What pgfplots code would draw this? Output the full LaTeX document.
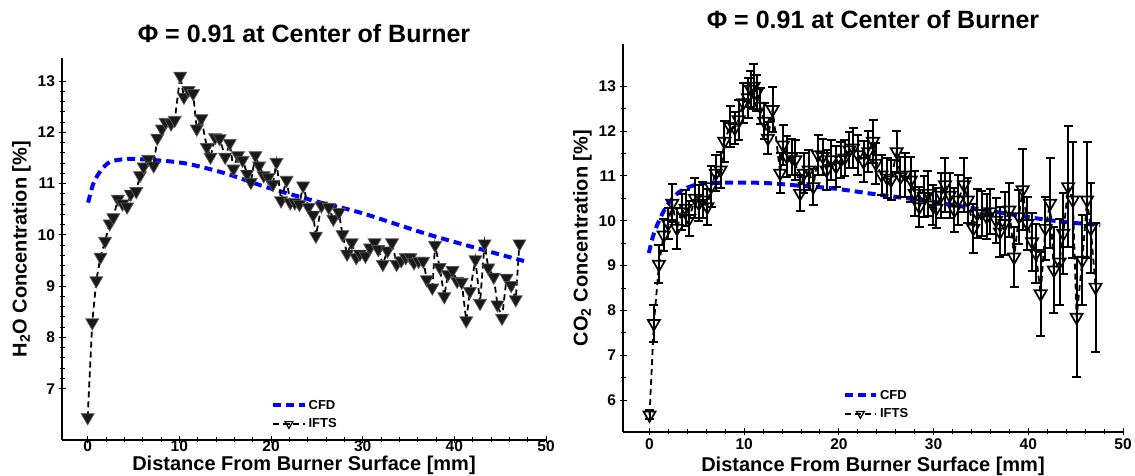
\documentclass[border=0pt]{standalone}
\usepackage{fontspec}
\setmainfont{Liberation Sans}
\usepackage{pgfplots}
\usepackage{pgfplotstable}
\pgfplotsset{compat=1.18}

\pgfplotstableread{
x y
0 6.44
0.5 8.29
0.94 9.11
1.4 9.57
1.9 9.88
2.4 10.22
2.8 10.34
3.3 10.70
3.8 10.61
4.3 10.55
4.7 10.80
5.3 10.85
5.7 11.16
6.1 11.33
6.6 11.48
7.2 11.35
7.6 11.89
8.1 12.07
8.5 12.20
9.1 12.17
9.5 12.24
10.1 13.10
10.5 12.69
11.0 12.82
11.5 12.76
11.9 12.07
12.4 12.27
13.0 11.71
13.4 11.52
13.9 11.90
14.4 11.88
15.0 11.52
15.5 11.79
15.9 11.29
16.4 11.55
16.9 11.46
17.4 11.19
17.8 11.03
18.3 11.55
18.7 11.35
19.2 11.16
19.7 11.12
20.2 10.99
20.6 11.42
21.1 10.67
21.7 11.07
22.1 10.63
22.6 10.63
23.1 10.60
23.5 10.96
24.1 10.54
24.6 10.39
24.9 9.98
25.5 10.57
26.3 10.54
26.8 10.31
27.4 10.44
27.8 10.01
28.3 9.63
28.8 9.85
29.3 9.56
29.7 9.63
30.3 9.59
30.8 9.75
31.3 9.85
31.7 9.72
32.2 9.43
32.7 9.69
33.2 9.85
33.7 9.43
34.2 9.50
34.7 9.56
35.2 9.56
35.6 9.46
36.1 9.49
36.6 9.49
37.0 9.13
37.6 8.97
37.9 9.80
38.4 9.37
38.9 8.80
39.3 9.23
39.8 9.31
40.3 9.10
40.8 9.08
41.3 8.33
41.7 8.90
42.3 9.52
42.8 8.67
43.3 9.83
43.7 9.36
44.3 9.18
44.7 8.64
45.2 8.38
45.7 9.16
46.2 9.02
46.7 8.74
47.1 9.83
}\htwoo

\pgfplotstableread{
x y
0.05 10.63
0.6 10.99
1.3 11.22
2.4 11.42
4.3 11.48
7.2 11.46
10.8 11.39
15.2 11.19
19.5 10.93
25.0 10.65
30.0 10.42
37.7 9.98
47.6 9.49
}\cfdh

\pgfplotstableread{
x y e
0 5.67 0.1
0.46 7.71 0.41
1.0 9.03 0.42
1.5 9.68 0.35
1.96 9.94 0.35
2.4 10.39 0.42
2.9 9.83 0.45
3.4 10.2 0.4
3.8 10.28 0.4
4.2 10.05 0.4
4.8 10.5 0.45
5.2 10.39 0.4
5.6 10.46 0.4
6.1 10.31 0.4
6.5 10.76 0.45
7.0 11.06 0.4
7.5 11.13 0.4
7.9 11.77 0.45
8.5 12.10 0.45
9.0 12.07 0.35
9.4 12.25 0.45
9.9 12.63 0.45
10.4 12.74 0.45
10.7 12.93 0.4
11.0 13.0 0.5
11.3 12.85 0.4
11.7 12.55 0.4
12.1 12.22 0.4
12.5 11.84 0.35
13.0 12.48 0.5
13.8 11.06 0.45
14.1 11.69 0.45
14.5 11.43 0.45
15.0 11.43 0.4
15.4 11.36 0.45
15.9 10.61 0.4
16.3 11.06 0.45
16.8 11.13 0.45
17.3 10.76 0.4
17.8 11.47 0.45
18.3 11.43 0.4
18.7 11.13 0.45
19.2 11.36 0.45
19.7 11.21 0.45
20.2 11.36 0.4
20.6 11.40 0.4
21.1 11.58 0.4
21.5 11.62 0.45
22.0 11.47 0.45
22.6 11.32 0.45
23.1 11.54 0.45
23.6 11.77 0.48
23.9 11.28 0.45
24.5 11.02 0.45
25.1 10.95 0.45
25.5 10.91 0.45
26.1 11.54 0.45
26.5 10.98 0.45
27.0 11.02 0.5
27.6 10.91 0.5
28.0 10.61 0.5
28.5 10.31 0.45
29.0 10.54 0.45
29.4 10.61 0.5
29.9 10.35 0.45
30.3 10.28 0.45
30.8 10.57 0.5
31.2 10.80 0.6
31.7 10.57 0.5
32.2 10.24 0.5
32.6 10.46 0.55
33.2 10.80 0.6
33.6 10.46 0.5
34.2 9.83 0.55
34.6 10.16 0.55
35.1 10.16 0.5
35.6 10.09 0.5
36.0 10.2 0.5
36.6 10.01 0.5
37.0 9.75 0.55
37.5 9.94 0.7
38.0 10.24 0.6
38.5 9.19 0.66
39.0 10.09 0.6
39.4 10.69 0.9
39.9 9.94 0.6
40.4 9.53 0.65
40.8 9.27 0.65
41.3 8.37 0.93
41.8 9.83 0.7
42.3 10.39 1.0
42.7 8.9 0.95
43.3 9.08 0.95
43.7 9.72 0.9
44.2 10.76 1.35
44.7 10.46 1.3
45.1 7.85 1.34
45.7 9.12 1.0
46.2 10.46 1.3
46.6 9.83 1.0
47.1 8.52 1.44
}\cotwo

\pgfplotstableread{
x y
-0.07 9.28
0.35 9.64
0.88 9.94
1.77 10.31
3.2 10.65
5.3 10.82
8.8 10.85
12.3 10.84
15.9 10.78
19.4 10.72
24.2 10.58
30.0 10.42
35.3 10.24
42.3 10.01
47.6 9.90
}\cfdc

\pgfplotsset{
  myaxis/.style={
    scale only axis,
    axis x line*=bottom,
    axis y line*=left,
    axis line style={line width=1.1pt},
    xmin=-2.8, xmax=50,
    xtick={0,10,...,50},
    minor x tick num=4,
    tick align=center,
    major tick length=7pt,
    minor tick length=5pt,
    every tick/.style={line width=1pt, black},
    /pgf/number format/assume math mode=true,
    tick label style={font=\bfseries\fontsize{15.5}{15.5}\selectfont},
    label style={font=\bfseries\fontsize{20}{20}\selectfont},
    title style={font=\bfseries\fontsize{25}{25}\selectfont},
    xlabel={Distance From Burner Surface [mm]},
    legend style={draw=none, fill=none, font=\bfseries\fontsize{13}{13}\selectfont,
      row sep=4pt, inner sep=1pt},
    legend cell align=left,
    legend image code/.code={
      \draw[mark repeat=2,mark phase=2] plot coordinates {(0cm,0cm) (0.55cm,0cm) (1.1cm,0cm)};},
    clip=false,
  },
  cfd/.style={blue, line width=4pt, dash pattern=on 8pt off 5pt, smooth},
  ifts/.style={black, line width=1.8pt, dash pattern=on 6pt off 4pt},
}

\begin{document}
\begin{tikzpicture}
\path[use as bounding box] (0,0) rectangle (1135pt,476pt);

\begin{axis}[myaxis,
  at={(62pt,36pt)}, anchor=south west,
  width=484pt, height=382pt,
  ymin=6.0, ymax=13.45,
  ytick={7,...,13},
  minor y tick num=4,
  title={Φ = 0.91 at Center of Burner},
  title style={at={(0.5,1.0)}, yshift=6pt},
  xticklabel style={yshift=6pt},
  xlabel style={yshift=3pt},
  ylabel={H\textsubscript{2}O Concentration [\%]},
  legend style={at={(0.43,0.02)}, anchor=south west},
]
\addlegendimage{cfd}
\addlegendentry{CFD}
\addlegendimage{ifts, mark=triangle, mark options={rotate=180, solid, line width=1.2pt, mark size=4.5pt}}
\addlegendentry{IFTS}
\addplot[cfd, forget plot] table {\cfdh};
\addplot[ifts, forget plot, mark=triangle*, mark size=7.5pt,
  mark options={rotate=180, solid, fill=black!90, draw=black!65, line width=0.7pt}] table {\htwoo};
\end{axis}

\begin{axis}[myaxis,
  at={(623pt,44pt)}, anchor=south west,
  width=500pt, height=388pt,
  ymin=5.29, ymax=13.94,
  ytick={6,...,13},
  minor y tick num=1,
  title={Φ = 0.91 at Center of Burner},
  title style={at={(0.5,1.0)}, yshift=6pt},
  ylabel={CO\textsubscript{2} Concentration [\%]},
  legend style={at={(0.437,0.025)}, anchor=south west},
]
\addlegendimage{cfd}
\addlegendentry{CFD}
\addlegendimage{ifts, mark=triangle, mark options={rotate=180, solid, line width=1.2pt, mark size=4.5pt}}
\addlegendentry{IFTS}
\addplot[cfd, forget plot] table {\cfdc};
\addplot[ifts, forget plot, mark=triangle, mark size=7pt,
  mark options={rotate=180, solid, line width=1.7pt},
  error bars/.cd, y dir=both, y explicit,
  error bar style={solid, line width=2pt, black},
  error mark options={rotate=90, mark size=4.5pt, line width=2pt, solid}]
  table[y error index=2] {\cotwo};
\end{axis}
\end{tikzpicture}
\end{document}
